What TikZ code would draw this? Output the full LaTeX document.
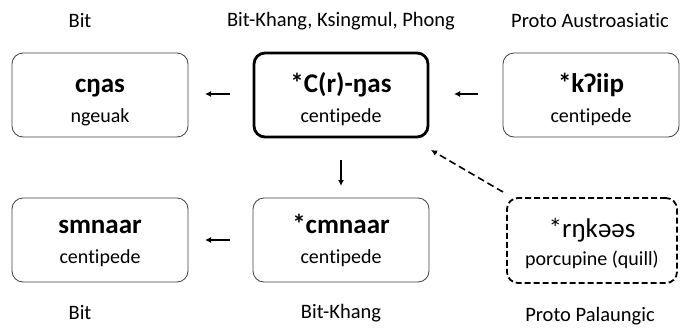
\documentclass[tikz,border=0pt]{standalone}
\usepackage{fontspec}
\setmainfont{Carlito}[RawFeature={-liga;-clig;-dlig}]
\usetikzlibrary{arrows.meta,calc}
\begin{document}
\begin{tikzpicture}[x=1pt,y=-1pt,
  formbox/.style={draw=black!75, line width=0.8pt, rounded corners=11pt,
    minimum width=176pt, minimum height=84pt, inner sep=0pt},
  formtitle/.style={anchor=base, inner sep=0pt, font=\fontsize{27}{30}\selectfont\bfseries},
  recontitle/.style={anchor=base, inner sep=0pt, font=\fontsize{27}{30}\selectfont},
  gloss/.style={anchor=base, inner sep=0pt, font=\fontsize{20}{24}\selectfont},
  lang/.style={font=\fontsize{20.5}{24}\selectfont, anchor=center},
  conn/.style={-{Latex[length=6pt,width=6pt]}, line width=1.6pt},
]
\useasboundingbox (0,0) rectangle (680,327);

% boxes
\node[formbox] (bitA) at (100,95) {};
\node[formbox, line width=2.8pt, draw=black, minimum width=174pt] (proto) at (341,95) {};
\node[formbox] (paa) at (591,95) {};
\node[formbox] (bitB) at (100,240) {};
\node[formbox] (bk) at (341,240) {};
\node[formbox, dash pattern=on 6pt off 3pt, line width=1.8pt, draw=black, minimum width=170pt, minimum height=85pt] (ppal) at (592,240.5) {};

% forms and glosses
\node[formtitle] (tA) at ($(bitA.center)+(0,-3)$) {cŋas};
\node[gloss] (gA) at ($(bitA.center)+(0,27)$) {ngeuak};
\node[formtitle] (tP) at ($(proto.center)+(0,-3)$) {*C(r)-ŋas};
\node[gloss] (gP) at ($(proto.center)+(0,27)$) {centipede};
\node[formtitle] (tAA) at ($(paa.center)+(0,-3)$) {*kʔiip};
\node[gloss] (gAA) at ($(paa.center)+(0,27)$) {centipede};
\node[formtitle] (tB) at ($(bitB.center)+(0,-7)$) {smnaar};
\node[gloss] (gB) at ($(bitB.center)+(0,23)$) {centipede};
\node[formtitle] (tK) at ($(bk.center)+(0,-7)$) {*cmnaar};
\node[gloss] (gK) at ($(bk.center)+(0,23)$) {centipede};
\node[recontitle] (tPP) at ($(ppal.center)+(0,-3)$) {*rŋkəəs};
\node[gloss] (gPP) at ($(ppal.center)+(0,24.5)$) {porcupine (quill)};

% language labels
\node[lang] (l1) at (80,21) {Bit};
\node[lang] (l2) at (341,21) {Bit-Khang, Ksingmul, Phong};
\node[lang] (l3) at (590,21) {Proto Austroasiatic};
\node[lang] (l4) at (80,313) {Bit};
\node[lang] (l5) at (341,313) {Bit-Khang};
\node[lang] (l6) at (590,316) {Proto Palaungic};

% derivation arrows
\coordinate (a1s) at (230,94);
\coordinate (a1e) at (205,94);
\coordinate (a2s) at (478,94);
\coordinate (a2e) at (454,94);
\coordinate (a3s) at (341,160);
\coordinate (a3e) at (341,186);
\coordinate (a4s) at (230,240);
\coordinate (a4e) at (205,240);
\coordinate (a5s) at (503,192);
\coordinate (a5e) at (431,150);
\draw[conn] (a1s) -- (a1e);
\draw[conn] (a2s) -- (a2e);
\draw[conn] (a3s) -- (a3e);
\draw[conn] (a4s) -- (a4e);
\draw[conn, dash pattern=on 7pt off 4pt] (a5s) -- (a5e);
\end{tikzpicture}
\end{document}
